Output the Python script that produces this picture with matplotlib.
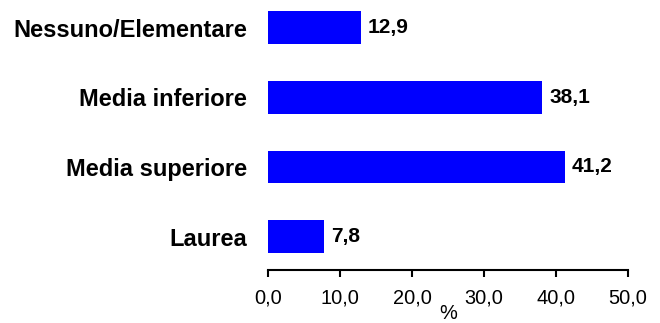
import matplotlib
matplotlib.use("Agg")
import matplotlib.pyplot as plt

categories = ["Nessuno/Elementare", "Media inferiore", "Media superiore", "Laurea"]
values = [12.9, 38.1, 41.2, 7.8]
xticks = [0, 10, 20, 30, 40, 50]
xtick_labels = ["0,0", "10,0", "20,0", "30,0", "40,0", "50,0"]

plt.rcParams['font.family'] = ['Liberation Sans', 'DejaVu Sans']

W, H = 660, 323
fig = plt.figure(figsize=(W / 100, H / 100), dpi=100)
ax = fig.add_axes([268 / W, (H - 270) / H, 360 / W, 270 / H])

ypos = list(range(len(categories)))[::-1]
ax.barh(ypos, values, height=0.47, color="#0000FF", edgecolor="none")

for y, v in zip(ypos, values):
    ax.annotate(f"{v:.1f}".replace(".", ","), xy=(v, y), xytext=(5, 0),
                textcoords="offset points", va="center", ha="left",
                fontsize=15, fontweight="bold", color="black")

ax.set_xlim(0, 50)
ax.set_ylim(-0.48, 3.395)
ax.set_yticks(ypos)
ax.set_yticklabels(categories, fontsize=17, fontweight="bold")
ax.tick_params(axis="y", length=0, pad=15)
ax.set_xticks(xticks)
ax.set_xticklabels(xtick_labels, fontsize=14.4)
ax.tick_params(axis="x", length=5, width=1.5, direction="out", pad=8)

for s in ["top", "right", "left"]:
    ax.spines[s].set_visible(False)
ax.spines["bottom"].set_linewidth(1.5)

ax.set_xlabel("%", fontsize=14.4, labelpad=-2)

fig.savefig("out.png", dpi=100)
